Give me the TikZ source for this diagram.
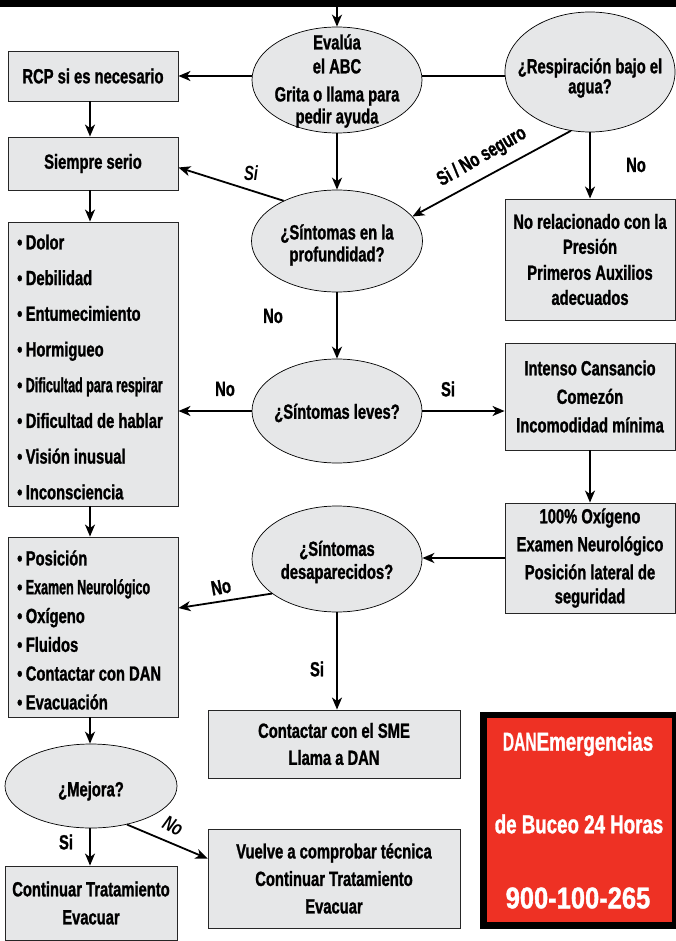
\documentclass[tikz,border=0pt]{standalone}
\usepackage{fontspec}
\setmainfont{Liberation Sans}[FakeStretch=0.72, BoldFeatures={FakeBold=1.2}]
\newfontfamily\narrowfont{Liberation Sans}[FakeStretch=0.61, BoldFeatures={FakeBold=1.2}]
\newfontfamily\danfont{Liberation Sans}[FakeStretch=0.6, BoldFeatures={FakeBold=0.6}]
\newfontfamily\numfont{Liberation Sans}[FakeStretch=0.85, BoldFeatures={FakeBold=1.2}]
\usetikzlibrary{shapes.geometric,arrows.meta,calc}
\definecolor{boxgray}{RGB}{230,231,232}
\definecolor{danred}{RGB}{238,49,36}
\begin{document}
\begin{tikzpicture}[x=1pt,y=-1pt,
  every node/.style={font=\fontsize{20.5}{24}\selectfont\bfseries},
  box/.style={draw=black!85, line width=0.9pt, fill=boxgray, align=center, inner sep=0pt},
  oval/.style={ellipse, draw=black, line width=0.7pt, fill=boxgray, inner sep=0pt},
  txt/.style={align=center, inner sep=0pt},
  listtxt/.style={align=left, inner sep=0pt, anchor=west},
  arr/.style={line width=1.8pt, -{Stealth[length=12pt,width=10pt,inset=3.5pt]}},
  conn/.style={line width=1.8pt},
  lbl/.style={inner sep=0pt},
  itlbl/.style={inner sep=0pt, font=\fontsize{20.5}{24}\selectfont\bfseries\itshape},
  redtxt/.style={inner sep=0pt, text=white, font=\fontsize{26}{30}\selectfont\bfseries}
]
\useasboundingbox (0,0) rectangle (676,941);
\coordinate (y76) at (0,76);

% top bar
\node[fill=black, minimum width=676pt, minimum height=7pt, inner sep=0pt, anchor=north west] (bar) at (0,0) {};

% ellipses
\node[oval, minimum width=170pt, minimum height=106pt] (e1) at (337,80) {};
\node[oval, minimum width=170pt, minimum height=120pt] (e2) at (590,72) {};
\node[oval, minimum width=171pt, minimum height=102pt] (e3) at (337,241) {};
\node[oval, minimum width=170pt, minimum height=104pt] (e4) at (337,411) {};
\node[oval, minimum width=170pt, minimum height=106pt] (e5) at (337,559) {};
\node[oval, minimum width=172pt, minimum height=84pt] (mej) at (91,786) {};

\node[txt] (e1t) at (337,81) {Evalúa\\el ABC\\[4pt]Grita o llama para\\[-2pt]pedir ayuda};
\node[txt] (e2t) at (590,78) {¿Respiración bajo el\\[-4pt]agua?};
\node[txt] (e3t) at (337,245) {¿Síntomas en la\\[-2pt]profundidad?};
\node[txt] (e4t) at (337,413) {¿Síntomas leves?};
\node[txt] (e5t) at (337,562) {¿Síntomas\\[-1pt]desaparecidos?};
\node[txt] (mejt) at (91,791) {¿Mejora?};

% boxes
\node[box, minimum width=170pt, minimum height=50pt] (rcp) at (93,76) {RCP si es necesario};
\node[box, minimum width=170pt, minimum height=53pt] (siempre) at (93,163.5) {Siempre serio};
\node[box, minimum width=170pt, minimum height=284pt] (sym) at (93,364) {};
\node[listtxt] (symt) at (17,367)
 {•\,Dolor\\[11.7pt]•\,Debilidad\\[11.7pt]•\,Entumecimiento\\[11.7pt]•\,Hormigueo\\[11.7pt]•\,{\narrowfont Dificultad para respirar}\\[11.7pt]•\,Dificultad de hablar\\[11.7pt]•\,Visión inusual\\[11.7pt]•\,Inconsciencia};
\node[box, minimum width=170pt, minimum height=180pt] (treat) at (93,627) {};
\node[listtxt] (treatt) at (17,630)
 {•\,Posición\\[4.8pt]•\,{\narrowfont Examen Neurológico}\\[4.8pt]•\,Oxígeno\\[4.8pt]•\,Fluidos\\[4.8pt]•\,Contactar con DAN\\[4.8pt]•\,Evacuación};
\node[box, minimum width=172pt, minimum height=74pt] (cont) at (91,903) {Continuar Tratamiento\\[4pt]Evacuar};
\node[box, minimum width=252pt, minimum height=68pt] (sme) at (334,744) {Contactar con el SME\\[3pt]Llama a DAN};
\node[box, minimum width=252pt, minimum height=99pt] (vuelve) at (334,878.5) {Vuelve a comprobar técnica\\[3.5pt]Continuar Tratamiento\\[3.5pt]Evacuar};
\node[box, minimum width=170pt, minimum height=121pt] (norel) at (590,259.5) {No relacionado con la\\[1pt]Presión\\[2pt]Primeros Auxilios\\[1pt]adecuados};
\node[box, minimum width=170pt, minimum height=107pt] (intenso) at (590,396.5) {Intenso Cansancio\\[4.5pt]Comezón\\[4.5pt]Incomodidad mínima};
\node[box, minimum width=170pt, minimum height=110pt] (oxig) at (590,558) {100\% Oxígeno\\[4pt]Examen Neurológico\\[4pt]Posición lateral de\\seguridad};

% red box
\node[fill=black, minimum width=196pt, minimum height=217pt, inner sep=0pt] (redout) at (578,820.5) {};
\node[fill=danred, minimum width=185pt, minimum height=204pt, inner sep=0pt] (redin) at (579.5,820) {};
\node[redtxt] (t1) at (578,744) {{\danfont DAN}Emergencias};
\node[redtxt] (t2) at (579,824) {de Buceo 24 Horas};
\node[redtxt, font=\numfont\fontsize{30}{34}\selectfont\bfseries] (t3) at (578,898) {900-100-265};

% connectors
\draw[arr] (bar.south -| e1.north) -- (e1.north);
\draw[conn] (e2.west |- y76) -- (e1.east |- y76);
\draw[arr] (e1.west |- y76) -- (rcp.east |- y76);
\draw[arr] ([xshift=-3pt]rcp.south) -- ([xshift=-3pt]siempre.north);
\draw[arr] ([xshift=-3pt]siempre.south) -- ([xshift=-3pt]sym.north);
\draw[arr] ([xshift=-3pt]sym.south) -- ([xshift=-3pt]treat.north);
\draw[arr] ([xshift=-3pt]treat.south) -- ([xshift=-1pt]mej.north);
\draw[arr] ([xshift=-1pt]mej.south) -- ([xshift=-1pt]mej.south |- cont.north);
\draw[arr] (mej.313) -- ([yshift=20pt]vuelve.west);
\draw[arr] (e1.south) -- (e3.north);
\draw[arr] (e3.143) -- ([yshift=-4pt]siempre.east);
\draw[arr] (e2.252) -- (e3.18);
\draw[arr] (e2.south) -- (e2.south |- norel.north);
\draw[arr] (e3.south) -- (e4.north);
\draw[arr] (e4.west) -- (e4.west -| sym.east);
\draw[arr] (e4.east) -- (e4.east -| intenso.west);
\draw[arr] (intenso.south) -- (oxig.north);
\draw[arr] (oxig.west) -- (oxig.west -| e5.east);
\draw[arr] (e5.208) -- ([yshift=19pt]treat.east);
\draw[arr] (e5.south) -- (e5.south |- sme.north);

% labels
\node[itlbl] (lsi1) at (251,173) {Si};
\node[lbl, rotate=30] (lsino) at (482,157) {Si / No seguro};
\node[lbl] (lno1) at (636,165) {No};
\node[lbl] (lno2) at (273,316) {No};
\node[lbl] (lno3) at (225,389) {No};
\node[lbl] (lsi2) at (448,389) {Si};
\node[lbl, rotate=10] (lno4) at (221,587) {No};
\node[lbl] (lsi3) at (317,669) {Si};
\node[lbl] (lsi4) at (66,842) {Si};
\node[itlbl, rotate=-28] (lno5) at (173,826) {No};
\end{tikzpicture}
\end{document}
